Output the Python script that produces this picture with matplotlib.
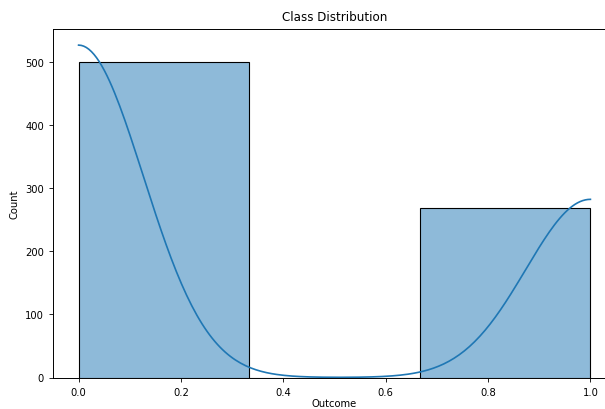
import numpy as np
import pandas as pd
import matplotlib
matplotlib.use("Agg")
import matplotlib.pyplot as plt
import seaborn as sns

# Class counts
outcome_classes = [0, 1]
class_counts = [500, 268]

data = pd.DataFrame({"Outcome": np.repeat(outcome_classes, class_counts)})

plt.rcParams['font.family'] = ['DejaVu Sans']
plt.rcParams['font.size'] = 7.2

fig = plt.figure(figsize=(6.05, 4.10), dpi=100)
ax = fig.add_axes([53 / 605, 1 - 378.5 / 410, 563 / 605, 349 / 410])
sns.histplot(data=data, x="Outcome", bins=3, kde=True, ax=ax,
             edgecolor="black", linewidth=0.8, line_kws={"linewidth": 1.2})
ax.set_title("Class Distribution", fontsize=8.6)
ax.set_xlabel("Outcome", fontsize=7.2, labelpad=1)
ax.set_ylabel("Count", fontsize=7.2)
ax.tick_params(labelsize=7.2, width=0.6, length=3)
for s in ax.spines.values():
    s.set_linewidth(0.7)
fig.savefig("out.png", dpi=100)
